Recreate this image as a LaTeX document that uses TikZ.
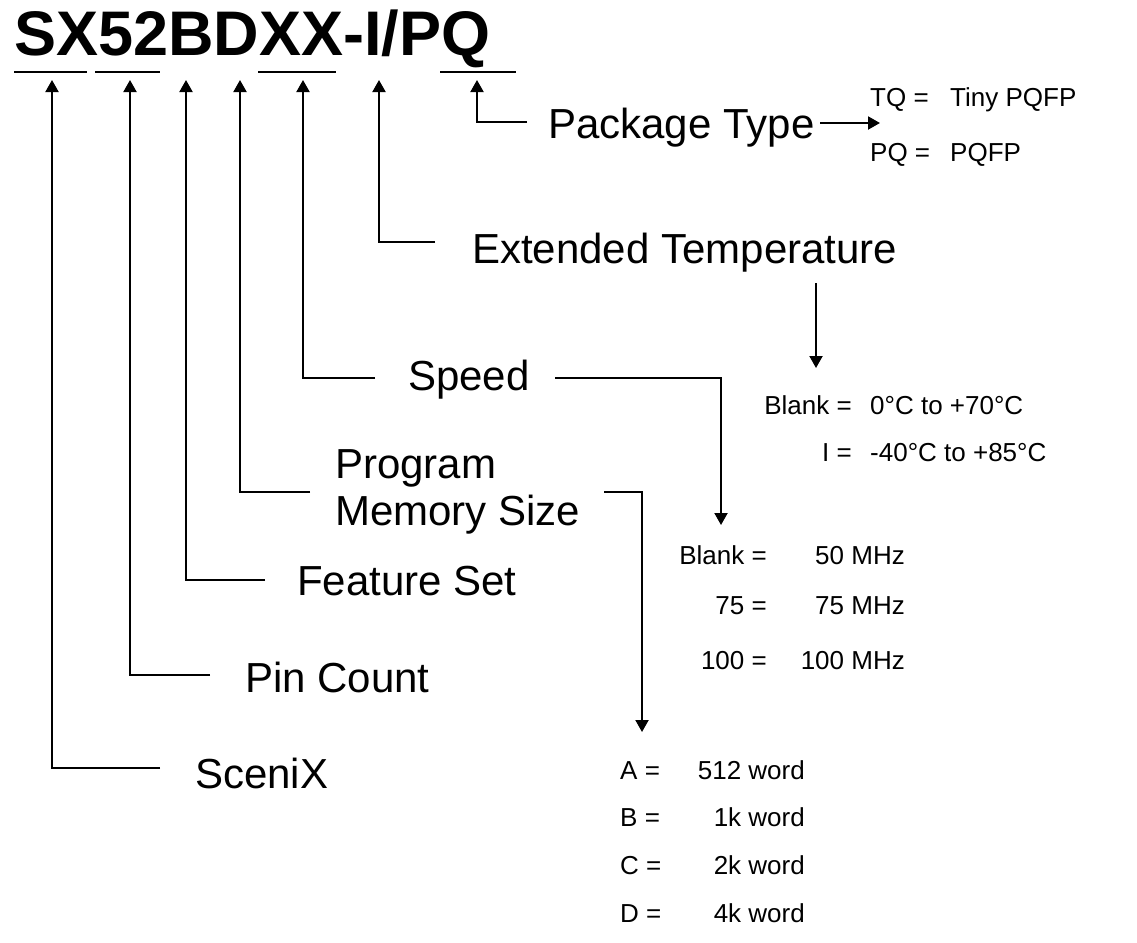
\documentclass[tikz,border=0pt]{standalone}
\usepackage{fontspec}
\setmainfont{Liberation Sans}
\usetikzlibrary{arrows.meta}
\tikzset{
  x=1pt,y=-1pt,
  conn/.style={line width=2pt},
  arr/.style={line width=2pt,-{Triangle[length=12pt,width=13pt]}},
  uline/.style={line width=2pt},
  big/.style={inner sep=0pt,anchor=base west,font=\fontsize{42}{50}\selectfont},
  small/.style={inner sep=0pt,font=\fontsize{26}{30}\selectfont},
}
\begin{document}
\begin{tikzpicture}
\useasboundingbox (0,0) rectangle (1137,942);
% title
\node[inner sep=0pt,anchor=base west,font=\fontsize{63}{70}\selectfont\bfseries] (title) at (14,56) {SX52BDXX-I/PQ};
% underlines
\coordinate (u1a) at (14,72); \coordinate (u1b) at (87,72);
\coordinate (u2a) at (95,72); \coordinate (u2b) at (160,72);
\coordinate (u3a) at (258,72); \coordinate (u3b) at (336,72);
\coordinate (u4a) at (440,72); \coordinate (u4b) at (516,72);
\draw[uline] (u1a) -- (u1b);
\draw[uline] (u2a) -- (u2b);
\draw[uline] (u3a) -- (u3b);
\draw[uline] (u4a) -- (u4b);
% arrow tips
\coordinate (tSX) at (52,80);
\coordinate (tPC) at (130,80);
\coordinate (tFS) at (186,80);
\coordinate (tPM) at (240,80);
\coordinate (tSP) at (303,80);
\coordinate (tET) at (379,80);
\coordinate (tPT) at (477,80);
% leg ends
\coordinate (eSX) at (160,768);
\coordinate (ePC) at (210,675);
\coordinate (eFS) at (265,580);
\coordinate (ePM) at (310,492);
\coordinate (eSP) at (375,378);
\coordinate (eET) at (435,242);
\coordinate (ePT) at (527,122);
\draw[arr] (eSX) -| (tSX);
\draw[arr] (ePC) -| (tPC);
\draw[arr] (eFS) -| (tFS);
\draw[arr] (ePM) -| (tPM);
\draw[arr] (eSP) -| (tSP);
\draw[arr] (eET) -| (tET);
\draw[arr] (ePT) -| (tPT);
% labels
\node[big] (lPT) at (548,138) {Package Type};
\node[big] (lET) at (472,263) {Extended Temperature};
\node[big] (lSP) at (408,390) {Speed};
\node[big] (lPM1) at (335,478) {Program};
\node[big] (lPM2) at (335,525) {Memory Size};
\node[big] (lFS) at (297,595) {Feature Set};
\node[big] (lPC) at (245,692) {Pin Count};
\node[big] (lSX) at (195,788) {SceniX};
% package type values
\node[small,anchor=base west] (pt1k) at (870,106) {TQ =};
\node[small,anchor=base west] (pt1v) at (950,106) {Tiny PQFP};
\node[small,anchor=base west] (pt2k) at (870,161) {PQ =};
\node[small,anchor=base west] (pt2v) at (950,161) {PQFP};
\coordinate (aPTs) at (820,123);
\coordinate (aPTe) at (880,123);
\draw[arr] (aPTs) -- (aPTe);
% temperature values
\coordinate (aETs) at (816,283);
\coordinate (aETe) at (816,368);
\draw[arr] (aETs) -- (aETe);
\node[small,anchor=base east] (et1k) at (852,414) {Blank =};
\node[small,anchor=base west] (et1v) at (870,414) {0°C to +70°C};
\node[small,anchor=base east] (et2k) at (852,461) {I =};
\node[small,anchor=base west] (et2v) at (870,461) {-40°C to +85°C};
% speed connector
\coordinate (sSP) at (555,378);
\coordinate (aSP) at (721,525);
\draw[arr] (sSP) -| (aSP);
\node[small,anchor=base east] (sp1k) at (767,564) {Blank =};
\node[small,anchor=base east] (sp1v) at (905,564) {50 MHz};
\node[small,anchor=base east] (sp2k) at (767,614) {75 =};
\node[small,anchor=base east] (sp2v) at (905,614) {75 MHz};
\node[small,anchor=base east] (sp3k) at (767,669) {100 =};
\node[small,anchor=base east] (sp3v) at (905,669) {100 MHz};
% memory connector
\coordinate (sPM) at (604,492);
\coordinate (aPM) at (642,732);
\draw[arr] (sPM) -| (aPM);
\node[small,anchor=base west] (m1k) at (620,779) {A =};
\node[small,anchor=base east] (m1v) at (805,779) {512 word};
\node[small,anchor=base west] (m2k) at (620,826) {B =};
\node[small,anchor=base east] (m2v) at (805,826) {1k word};
\node[small,anchor=base west] (m3k) at (620,874) {C =};
\node[small,anchor=base east] (m3v) at (805,874) {2k word};
\node[small,anchor=base west] (m4k) at (620,922) {D =};
\node[small,anchor=base east] (m4v) at (805,922) {4k word};
\end{tikzpicture}
\end{document}
